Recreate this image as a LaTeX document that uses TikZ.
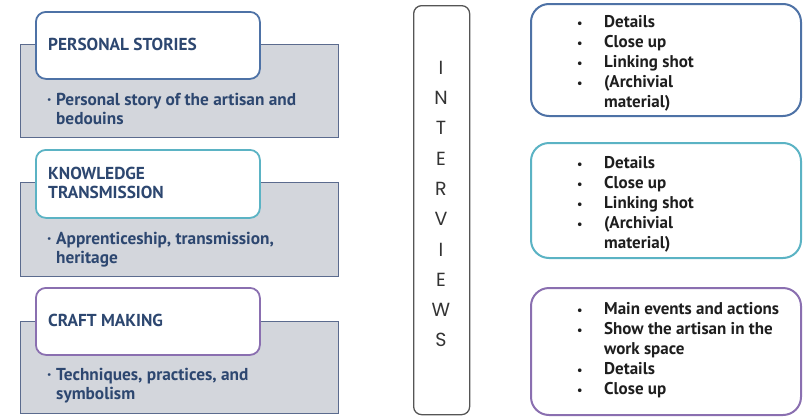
\documentclass[tikz,border=0pt]{standalone}
\usepackage{fontspec}
\setmainfont{PT Sans}
\newfontfamily\ivfont{Poppins}
\definecolor{grayfill}{HTML}{D3D6DC}
\definecolor{grayedge}{HTML}{5B6B8E}
\definecolor{bluebox}{HTML}{4E72A6}
\definecolor{tealbox}{HTML}{5BB3C4}
\definecolor{purplebox}{HTML}{8A6FB0}
\definecolor{navytext}{HTML}{2D4770}
\definecolor{darktext}{HTML}{1E1E1E}
\definecolor{ivedge}{HTML}{555555}
\tikzset{
  graypanel/.style={draw=grayedge, fill=grayfill, line width=1.3pt, rectangle, anchor=north west, inner sep=0pt, minimum width=318pt},
  titlebox/.style={fill=white, line width=1.8pt, rounded corners=10pt, rectangle, anchor=north west, inner sep=0pt, minimum width=224pt},
  listbox/.style={fill=white, line width=2pt, rounded corners=18pt, rectangle, anchor=north west, inner sep=0pt, minimum width=270pt},
  titletext/.style={anchor=base west, inner sep=0pt, align=left, text=navytext, font=\fontsize{17.3}{19}\selectfont\bfseries},
  bodytext/.style={anchor=base west, inner sep=0pt, align=left, text=navytext, font=\fontsize{17.3}{18.5}\selectfont\bfseries},
  listtext/.style={anchor=base west, inner sep=0pt, align=left, text=darktext, font=\fontsize{17}{19.8}\selectfont\bfseries},
}
\newcommand{\bul}{\makebox[9pt][l]{·}}
\newcommand{\lbul}{\makebox[28pt][l]{\hspace*{1pt}\fontsize{12}{12}\selectfont•}}
\begin{document}
\begin{tikzpicture}[x=1pt,y=-1pt]
\useasboundingbox (0,0) rectangle (803,418);
% left panels (base anchor = baseline of last line)
\node[graypanel, minimum height=93pt] (g1) at (20,44) {};
\node[titlebox, draw=bluebox, minimum height=67pt] (t1) at (35,11) {};
\node[titletext] (t1txt) at (48,50) {PERSONAL STORIES};
\node[bodytext] (b1) at (47,124) {\bul Personal story of the artisan and\\\hspace*{9pt}bedouins};

\node[graypanel, minimum height=94pt] (g2) at (20,182) {};
\node[titlebox, draw=tealbox, minimum height=68pt] (t2) at (35,149) {};
\node[titletext] (t2txt) at (48,198) {KNOWLEDGE\\TRANSMISSION};
\node[bodytext] (b2) at (47,263) {\bul Apprenticeship, transmission,\\\hspace*{9pt}heritage};

\node[graypanel, minimum height=92pt] (g3) at (20,321) {};
\node[titlebox, draw=purplebox, minimum height=67pt] (t3) at (35,287) {};
\node[titletext] (t3txt) at (48,326) {CRAFT MAKING};
\node[bodytext] (b3) at (47,399) {\bul Techniques, practices, and\\\hspace*{9pt}symbolism};

% interviews column
\node[draw=ivedge, line width=1.3pt, rounded corners=8pt, rectangle, anchor=north west, inner sep=0pt, minimum width=56pt, minimum height=409pt] (iv) at (413,5) {};
\node[inner sep=0pt, align=center, text=black!80, font=\ivfont\fontsize{19}{30.3}\selectfont] (ivtxt) at (441,204) {I\\N\\T\\E\\R\\V\\I\\E\\W\\S};

% right list boxes
\node[listbox, draw=bluebox, minimum height=112pt] (r1) at (530,3) {};
\node[listtext] (r1txt) at (576,107) {\lbul Details\\\lbul Close up\\\lbul Linking shot\\\lbul (Archivial\\\hspace*{28pt}material)};

\node[listbox, draw=tealbox, minimum height=115pt] (r2) at (530,142) {};
\node[listtext] (r2txt) at (576,248) {\lbul Details\\\lbul Close up\\\lbul Linking shot\\\lbul (Archivial\\\hspace*{28pt}material)};

\node[listbox, draw=purplebox, minimum height=127pt] (r3) at (530,287) {};
\node[listtext] (r3txt) at (576,394) {\lbul Main events and actions\\\lbul Show the artisan in the\\\hspace*{28pt}work space\\\lbul Details\\\lbul Close up};
\end{tikzpicture}
\end{document}
